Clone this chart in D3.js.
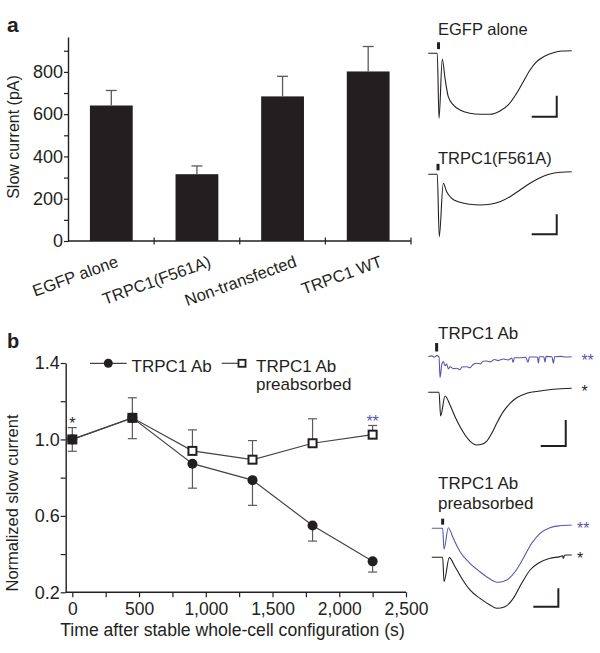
<!DOCTYPE html>
<html><head><meta charset="utf-8">
<script src="https://cdn.jsdelivr.net/npm/d3@7"></script>
<style>
body{margin:0;background:#fff}
svg{display:block}
text{font-family:"Liberation Sans",Arial,Helvetica,sans-serif;fill:#231f20}
</style>
</head><body>
<svg id="c" width="600" height="653"></svg>
<script>
// ---------------- DATA ----------------
// Panel a: bar chart
const categories = ["EGFP alone", "TRPC1(F561A)", "Non-transfected", "TRPC1 WT"];
const slowCurrent = [641, 316, 684, 802];
const slowCurrentErr = [71, 39, 95, 118];
const yTicksA = [0, 200, 400, 600, 800];
const yMinorA = [0, 100, 200, 300, 400, 500, 600, 700, 800, 900];

// Panel b: time course
const timesB = [0, 450, 900, 1350, 1800, 2250];
const abMean = [1.0, 1.113, 0.873, 0.787, 0.55, 0.362];
const abErr = [0.062, 0.109, 0.128, 0.132, 0.082, 0.056];
const preMean = [1.0, 1.113, 0.94, 0.894, 0.98, 1.025];
const preErr = [0.062, 0.105, 0.11, 0.10, 0.128, 0.048];
const yTicksB = [0.2, 0.6, 1.0, 1.4];
const yMinorB = [0.2, 0.4, 0.6, 0.8, 1.0, 1.2, 1.4];
const xTicksB = [0, 500, 1000, 1500, 2000, 2500];
const xMinorB = [0, 250, 500, 750, 1000, 1250, 1500, 1750, 2000, 2250, 2500];

// Example current traces: [time (ms), current (pA)]
const egfpTrace = [[2,0],[74,0],[88,-619],[114,-54],[136,-238],[162,-413],[202,-492],[256,-540],[335,-571],[415,-581],[495,-581],[575,-549],[641,-492],[708,-381],[761,-270],[815,-159],[868,-80],[934,-26],[1001,6],[1068,22],[1148,25]];
const f561aTrace = [[2,0],[74,0],[90,-624],[122,-90],[149,-174],[189,-240],[256,-280],[335,-300],[415,-307],[495,-300],[575,-274],[655,-224],[735,-157],[815,-90],[895,-34],[974,3],[1054,20],[1148,26]];
const abTraceBlue = [[2,0],[30,6],[50,-4],[69,8],[88,-2],[96,-161],[110,-60],[122,-38],[136,-70],[149,-56],[163,-95],[176,-77],[203,-92],[229,-89],[256,-100],[270,-80],[309,-77],[335,-85],[360,-60],[389,-51],[420,-55],[440,-35],[469,-33],[500,-40],[530,-22],[560,-30],[601,-18],[640,-25],[670,-10],[679,-45],[690,-8],[735,-8],[780,-5],[799,-42],[810,-3],[868,-2],[875,-5],[881,-50],[890,0],[925,0],[934,-42],[943,2],[990,0],[1001,-50],[1012,0],[1060,2],[1100,-3],[1148,0]];
const abTrace = [[2,0],[88,0],[101,-182],[136,-28],[176,-98],[216,-188],[256,-265],[296,-328],[335,-375],[389,-405],[429,-400],[469,-375],[509,-315],[549,-238],[601,-149],[655,-85],[708,-42],[788,-8],[895,10],[1001,23],[1148,31]];
const preTraceBlue = [[30,0],[117,0],[128,-228],[162,7],[202,-109],[256,-254],[335,-380],[415,-472],[495,-551],[561,-587],[629,-562],[695,-472],[761,-326],[828,-163],[895,-54],[974,7],[1054,28],[1148,36]];
const preTrace = [[30,0],[117,0],[128,-265],[170,-4],[216,-102],[269,-228],[335,-355],[415,-446],[495,-518],[549,-554],[615,-537],[681,-446],[748,-283],[815,-138],[881,-65],[974,-11],[1054,7],[1075,15],[1081,-12],[1090,22],[1108,25],[1148,25]];

// ---------------- DRAWING ----------------
const svg = d3.select("#c");
const ink = "#231f20";
const blue = "#5656b0";
const grey = "#5a5a5a";
const FONT = '"Liberation Sans",Arial,Helvetica,sans-serif';

// ===== Panel a =====
svg.append("text").attr("x", 7).attr("y", 32).attr("font-size", 21).attr("font-weight", "bold").text("a");

const xA = d3.scaleBand().domain(categories).range([68.5, 411]).paddingInner(0.5).paddingOuter(0.25);
const yA = d3.scaleLinear().domain([0, 965]).range([241, 37]);

const gA = svg.append("g");
const yAxA = gA.append("g").attr("transform", "translate(68,0)")
  .call(d3.axisLeft(yA).tickValues(yMinorA).tickSize(4).tickSizeOuter(0)
    .tickFormat(d => yTicksA.includes(d) ? d : ""));
yAxA.select(".domain").attr("stroke", ink).attr("stroke-width", 1.4);
yAxA.selectAll(".tick line").attr("stroke", ink).attr("stroke-width", 1.2);
yAxA.selectAll(".tick text").attr("font-size", 18).attr("x", -5).style("font-family", FONT).attr("fill", ink);

gA.selectAll("rect.bar").data(categories).join("rect")
  .attr("x", d => xA(d)).attr("width", xA.bandwidth())
  .attr("y", (d, i) => yA(slowCurrent[i]))
  .attr("height", (d, i) => yA(0) - yA(slowCurrent[i]))
  .attr("fill", ink);
categories.forEach((c, i) => {
  const cx = xA(c) + xA.bandwidth() / 2;
  const yTop = yA(slowCurrent[i] + slowCurrentErr[i]);
  gA.append("line").attr("x1", cx).attr("x2", cx).attr("y1", yA(slowCurrent[i])).attr("y2", yTop).attr("stroke", grey).attr("stroke-width", 1.3);
  gA.append("line").attr("x1", cx - 5.5).attr("x2", cx + 5.5).attr("y1", yTop).attr("y2", yTop).attr("stroke", grey).attr("stroke-width", 1.3);
});
gA.append("line").attr("x1", 68).attr("x2", xA.range()[1]).attr("y1", yA(0)).attr("y2", yA(0)).attr("stroke", ink).attr("stroke-width", 1.4);
const gapA = (xA.step() - xA.bandwidth()) / 2;
categories.forEach((c, i) => {
  const bx = xA(c) + xA.bandwidth() + gapA;
  gA.append("line").attr("x1", bx).attr("x2", bx).attr("y1", yA(0) - 3.5).attr("y2", yA(0) + 3.5).attr("stroke", ink).attr("stroke-width", 1.2);
});
const labelShift = [-7, 0, 0, 0];
categories.forEach((c, i) => {
  const cx = xA(c) + xA.bandwidth() / 2 + 15 + labelShift[i];
  gA.append("text").attr("transform", `translate(${cx},266) rotate(-20)`)
    .attr("text-anchor", "end").attr("font-size", 16.5).text(c);
});
gA.append("text").attr("transform", "translate(19,137) rotate(-90)").attr("text-anchor", "middle").attr("font-size", 16).text("Slow current (pA)");

// ===== Traces =====
const xT = d3.scaleLinear().domain([0, 1150]).range([428, 572]);
const lineT = (yS, off) => d3.line().x(d => xT(d[0])).y(d => yS(d[1] + off)).curve(d3.curveMonotoneX);

const tracePanels = [
  { title: ["EGFP alone"], titleY: 35, fs: 16.5, base: 53.3, px200: 21, traces: [{ data: egfpTrace, color: ink, off: 0 }], stim: 84, bar: [1028, -604] },
  { title: ["TRPC1(F561A)"], titleY: 163.5, fs: 16.5, base: 174.3, px200: 20, traces: [{ data: f561aTrace, color: ink, off: 0 }], stim: 80, bar: [1028, -600] },
  { title: ["TRPC1 Ab"], titleY: 339, fs: 17, base: 392.3, px200: 26, traces: [{ data: abTraceBlue, color: blue, off: 274, star: "**" }, { data: abTrace, color: ink, off: 0, star: "*" }], stim: 69, bar: [1100, -413], starX: 1225 },
  { title: ["TRPC1 Ab", "preabsorbed"], titleY: 489, fs: 17, base: 557.3, px200: 18.4, traces: [{ data: preTraceBlue, color: blue, off: 315, star: "**" }, { data: preTrace, color: ink, off: 0, star: "*" }], stim: 117, bar: [1041, -537], starX: 1190 }
];

tracePanels.forEach(p => {
  const yS = d3.scaleLinear().domain([0, -200]).range([p.base, p.base + p.px200]);
  const g = svg.append("g");
  p.title.forEach((t, k) => g.append("text").attr("x", 438).attr("y", p.titleY + k * 20).attr("font-size", p.fs).text(t));
  const topOff = d3.max(p.traces, t => t.off);
  g.append("rect").attr("x", xT(p.stim) - 1.5).attr("width", 3)
    .attr("y", yS(topOff + 105)).attr("height", yS(topOff + 40) - yS(topOff + 105)).attr("fill", ink);
  p.traces.forEach(t => {
    g.append("path").attr("d", lineT(yS, t.off)(t.data)).attr("fill", "none").attr("stroke", t.color).attr("stroke-width", 1.1).attr("stroke-linejoin", "round");
    if (t.star) {
      const last = t.data[t.data.length - 1];
      g.append("text").attr("x", xT(p.starX)).attr("y", yS(last[1] + t.off) + 9).attr("font-size", 16)
        .style("fill", t.color).text(t.star);
    }
  });
  const [bx, by] = p.bar;
  g.append("path").attr("d", `M${xT(bx - 200)},${yS(by)}H${xT(bx)}V${yS(by + 200)}`)
    .attr("fill", "none").attr("stroke", ink).attr("stroke-width", 2);
});

// ===== Panel b =====
svg.append("text").attr("x", 7).attr("y", 348).attr("font-size", 20).attr("font-weight", "bold").text("b");

const xB = d3.scaleLinear().domain([0, 2500]).range([72.3, 406]);
const yB = d3.scaleLinear().domain([0.2, 1.4]).range([592.3, 363]);
const gB = svg.append("g");

const yAxB = gB.append("g").attr("transform", "translate(65.7,0)")
  .call(d3.axisLeft(yB).tickValues(yMinorB).tickSize(5).tickSizeOuter(0)
    .tickFormat(d => yTicksB.some(v => Math.abs(v - d) < 1e-6) ? d3.format(".1f")(d) : ""));
yAxB.select(".domain").attr("stroke", ink).attr("stroke-width", 1.4);
yAxB.selectAll(".tick line").attr("stroke", ink).attr("stroke-width", 1.2);
yAxB.selectAll(".tick text").attr("font-size", 18).attr("x", -6).attr("fill", ink).style("font-family", FONT);

const xAxB = gB.append("g").attr("transform", `translate(0,${yB(0.2)})`)
  .call(d3.axisBottom(xB).tickValues(xMinorB).tickSize(5).tickSizeOuter(0)
    .tickFormat(d => xTicksB.includes(d) ? d3.format(",")(d) : ""));
xAxB.select(".domain").remove();
xAxB.selectAll(".tick line").attr("stroke", ink).attr("stroke-width", 1.2);
xAxB.selectAll(".tick text").attr("font-size", 17.5).attr("y", 10).attr("fill", ink).style("font-family", FONT);
gB.append("line").attr("x1", 65.7).attr("x2", xB(2500)).attr("y1", yB(0.2)).attr("y2", yB(0.2)).attr("stroke", ink).attr("stroke-width", 1.4);

gB.append("text").attr("x", 232.5).attr("y", 636).attr("text-anchor", "middle").attr("font-size", 17.6).text("Time after stable whole-cell configuration (s)");
gB.append("text").attr("transform", "translate(18,503) rotate(-90)").attr("text-anchor", "middle").attr("font-size", 16.5).text("Normalized slow current");

const lineB = d3.line().x(d => xB(d[0])).y(d => yB(d[1]));
const abPts = timesB.map((t, i) => [t, abMean[i]]);
const prePts = timesB.map((t, i) => [t, preMean[i]]);
gB.append("path").attr("d", lineB(prePts)).attr("fill", "none").attr("stroke", "#444").attr("stroke-width", 1.2);
gB.append("path").attr("d", lineB(abPts)).attr("fill", "none").attr("stroke", "#444").attr("stroke-width", 1.2);

function errBar(t, from, to) {
  const x = xB(t);
  gB.append("line").attr("x1", x).attr("x2", x).attr("y1", yB(from)).attr("y2", yB(to)).attr("stroke", grey).attr("stroke-width", 1.2);
  gB.append("line").attr("x1", x - 4.5).attr("x2", x + 4.5).attr("y1", yB(to)).attr("y2", yB(to)).attr("stroke", grey).attr("stroke-width", 1.2);
}
timesB.forEach((t, i) => {
  errBar(t, abMean[i], abMean[i] - abErr[i]);
  errBar(t, preMean[i], preMean[i] + preErr[i]);
});

gB.selectAll("rect.pre").data(prePts).join("rect")
  .attr("x", d => xB(d[0]) - 4).attr("y", d => yB(d[1]) - 4).attr("width", 8).attr("height", 8)
  .attr("fill", "#fff").attr("stroke", ink).attr("stroke-width", 2);
gB.selectAll("circle.ab").data(abPts).join("circle")
  .attr("cx", d => xB(d[0])).attr("cy", d => yB(d[1])).attr("r", 5).attr("fill", ink);

gB.append("text").attr("x", xB(0)).attr("y", yB(1.1) + 9).attr("text-anchor", "middle").attr("font-size", 16).text("*");
gB.append("text").attr("x", xB(2250)).attr("y", yB(1.11) + 9).attr("text-anchor", "middle").attr("font-size", 16).style("fill", blue).text("**");

const lg = gB.append("g");
lg.append("line").attr("x1", 90).attr("x2", 126.7).attr("y1", 363.3).attr("y2", 363.3).attr("stroke", "#444").attr("stroke-width", 1.2);
lg.append("circle").attr("cx", 108.3).attr("cy", 363.3).attr("r", 4.5).attr("fill", ink);
lg.append("text").attr("x", 131.5).attr("y", 371.5).attr("font-size", 17).text("TRPC1 Ab");
lg.append("line").attr("x1", 221.7).attr("x2", 238).attr("y1", 363.3).attr("y2", 363.3).attr("stroke", "#444").attr("stroke-width", 1.2);
lg.append("rect").attr("x", 238.5).attr("y", 359.8).attr("width", 7).attr("height", 7).attr("fill", "#fff").attr("stroke", ink).attr("stroke-width", 1.8);
lg.append("text").attr("x", 256).attr("y", 371.5).attr("font-size", 17).text("TRPC1 Ab");
lg.append("text").attr("x", 256).attr("y", 390).attr("font-size", 17).text("preabsorbed");
</script>
</body></html>
